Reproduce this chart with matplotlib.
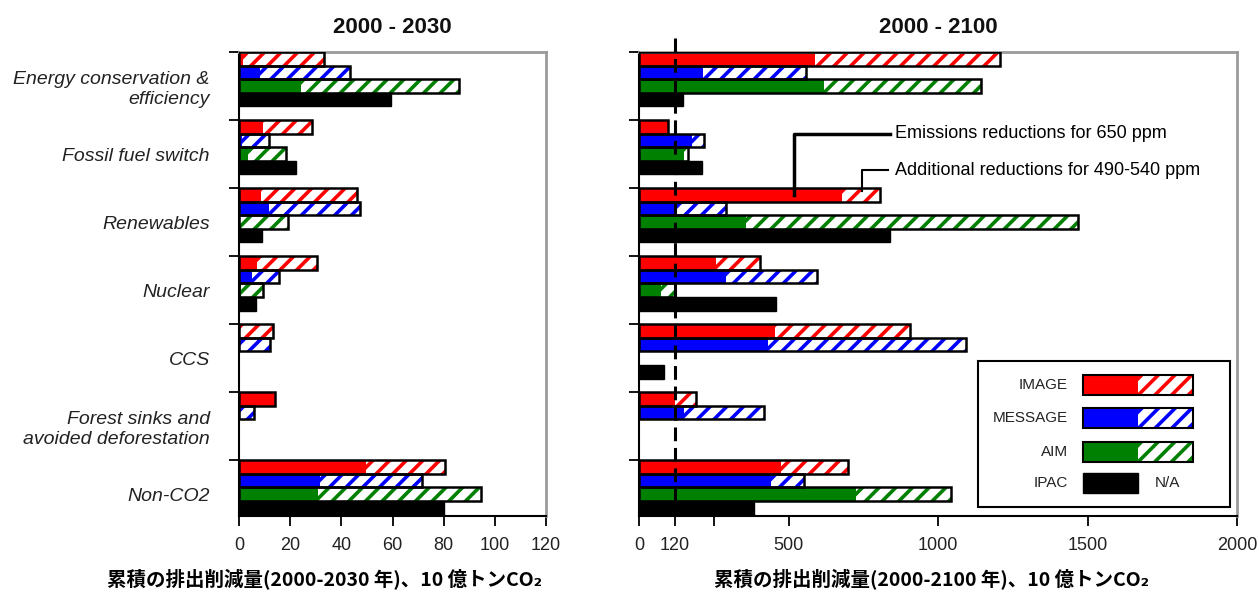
import numpy as np
import matplotlib
matplotlib.use('Agg')
from matplotlib import pyplot as plt
from matplotlib.patches import Rectangle

plt.rcParams['font.family'] = ['Liberation Sans', 'Noto Sans CJK JP', 'DejaVu Sans']
plt.rcParams['hatch.linewidth'] = 2.6

nan = np.nan

categories = ['Energy conservation &\nefficiency', 'Fossil fuel switch', 'Renewables',
              'Nuclear', 'CCS', 'Forest sinks and\navoided deforestation', 'Non-CO2']
models = ['IMAGE', 'MESSAGE', 'AIM', 'IPAC']
colors = ['#ff0000', '#0000ff', '#008000', '#000000']

# 2000-2030 (solid = 650 ppm, total = incl. additional 490-540 ppm)
image_30 = [1.5, 9.4, 8.7, 7.2, 0, 14.2, 49.5]
image_30_tot = [33.2, 28.7, 46.2, 30.5, 13.3, 14.2, 80.6]
message_30 = [8.1, 1.3, 11.7, 5.1, 0, 0.5, 31.8]
message_30_tot = [43.5, 11.7, 47.4, 15.6, 12.0, 5.9, 71.6]
aim_30 = [24.4, 3.5, 0, 0.8, nan, nan, 30.9]
aim_30_tot = [85.8, 18.5, 19.1, 9.4, nan, nan, 94.7]
ipac_30 = [59.5, 22.4, 9.0, 6.8, nan, nan, 80.0]

# 2000-2100
image_100 = [587, 96, 679, 259, 456, 119, 474]
image_100_tot = [1209, 96, 805, 406, 905, 189, 699]
message_100 = [214, 178, 127, 292, 431, 149, 441]
message_100_tot = [557, 216, 291, 595, 1095, 419, 553]
aim_100 = [620, 149, 359, 74, nan, nan, 725]
aim_100_tot = [1145, 163, 1467, 121, nan, nan, 1043]
ipac_100 = [147, 211, 838, 458, 85, nan, 384]

ticks_30 = [0, 20, 40, 60, 80, 100, 120]
ticks_100 = [0, 120, 250, 500, 1000, 1500, 2000]
ticklabels_100 = ['0', '120', '', '500', '1000', '1500', '2000']

W, H = 1259, 594
fig = plt.figure(figsize=(W / 100, H / 100), dpi=100)

def px_box(x0, x1, y0, y1):
    return [x0 / W, 1 - y1 / H, (x1 - x0) / W, (y1 - y0) / H]

ax1 = fig.add_axes(px_box(239, 546, 52, 516))
ax2 = fig.add_axes(px_box(639, 1237, 52, 516))

BAR_H = 0.2

def draw_bars(ax, solid, total, k, color):
    solid = np.asarray(solid, float)
    total = np.asarray(total, float)
    y = np.arange(len(solid)) + BAR_H * k + BAR_H / 2
    ok = ~np.isnan(total)
    ax.barh(y[ok], solid[ok], height=BAR_H, color=color, linewidth=0, zorder=2)
    extra = total - solid
    ax.barh(y[ok], extra[ok], left=solid[ok], height=BAR_H, color='white',
            edgecolor=color, hatch='//', linewidth=0, zorder=2)
    ax.barh(y[ok], total[ok], height=BAR_H, fill=False, edgecolor='black',
            linewidth=1.8, zorder=3)

def draw_ipac(ax, vals):
    vals = np.asarray(vals, float)
    y = np.arange(len(vals)) + BAR_H * 3 + BAR_H / 2
    ok = ~np.isnan(vals)
    ax.barh(y[ok], vals[ok], height=BAR_H, color='black', edgecolor='black',
            linewidth=1.0, zorder=2)

def style_axes(ax, xmax, ticks, labels, title):
    ax.set_xlim(0, xmax)
    ax.set_ylim(6.82, 0)
    for s in ['top', 'right']:
        ax.spines[s].set_color('#9a9a9a')
        ax.spines[s].set_linewidth(2.0)
    for s in ['left', 'bottom']:
        ax.spines[s].set_color('black')
        ax.spines[s].set_linewidth(1.5)
    ax.set_xticks(ticks)
    ax.set_xticklabels(labels)
    ax.tick_params(axis='x', length=7, width=1.3, pad=8, labelsize=13, labelcolor='#222222')
    ax.set_yticks(np.arange(0, 7))
    ax.set_yticklabels([])
    ax.tick_params(axis='y', length=7, width=1.3)
    ax.set_title(title, fontsize=16, fontweight='bold', pad=14, color='#111111')

# left panel
draw_bars(ax1, image_30, image_30_tot, 0, colors[0])
draw_bars(ax1, message_30, message_30_tot, 1, colors[1])
draw_bars(ax1, aim_30, aim_30_tot, 2, colors[2])
draw_ipac(ax1, ipac_30)
style_axes(ax1, 120, ticks_30, [str(t) for t in ticks_30], '2000 - 2030')
ax1.set_yticks(np.arange(len(categories)) + 0.5, minor=True)
ax1.set_yticklabels(categories, minor=True, fontstyle='italic', fontsize=14, color='#222222')
ax1.tick_params(axis='y', which='minor', length=0, pad=21)

# right panel
draw_bars(ax2, image_100, image_100_tot, 0, colors[0])
draw_bars(ax2, message_100, message_100_tot, 1, colors[1])
draw_bars(ax2, aim_100, aim_100_tot, 2, colors[2])
draw_ipac(ax2, ipac_100)
style_axes(ax2, 2000, ticks_100, ticklabels_100, '2000 - 2100')
ax2.plot([120, 120], [-0.2, 6.82], color='black', linestyle=(0, (4.5, 2.2)), linewidth=2.2,
         clip_on=False, zorder=5)

# annotations
ax2.plot([518, 518, 839], [2.10, 1.2, 1.2], color='black', linewidth=2.5, zorder=6)
ax2.plot([746, 746, 833], [2.05, 1.735, 1.735], color='black', linewidth=1.5, zorder=6)
ax2.text(856, 1.2, 'Emissions reductions for 650 ppm', fontsize=13, va='center', ha='left')
ax2.text(856, 1.735, 'Additional reductions for 490-540 ppm', fontsize=13, va='center', ha='left')

# legend box (drawn by hand)
tr = ax2.transAxes
ax2.add_patch(Rectangle((0.567, 0.019), 0.421, 0.315, transform=tr, fill=False,
                        edgecolor='black', linewidth=1.5, zorder=6))
rows = [0.282, 0.211, 0.138, 0.071]
ph = 0.043
for name, c, yr in zip(models, colors, rows):
    ax2.text(0.717, yr, name, transform=tr, ha='right', va='center', fontsize=11,
             color='#222222', zorder=7)
    if name == 'IPAC':
        ax2.add_patch(Rectangle((0.742, yr - ph / 2), 0.092, ph, transform=tr,
                                facecolor='black', edgecolor='black', zorder=7))
        ax2.text(0.883, yr, 'N/A', transform=tr, ha='center', va='center', fontsize=11,
                 color='#222222', zorder=7)
    else:
        ax2.add_patch(Rectangle((0.742, yr - ph / 2), 0.092, ph, transform=tr,
                                facecolor=c, linewidth=0, zorder=7))
        ax2.add_patch(Rectangle((0.834, yr - ph / 2), 0.092, ph, transform=tr,
                                facecolor='white', edgecolor=c, hatch='//', linewidth=0, zorder=7))
        ax2.add_patch(Rectangle((0.742, yr - ph / 2), 0.184, ph, transform=tr,
                                fill=False, edgecolor='black', linewidth=1.5, zorder=8))

# x labels
cjk = ['Noto Sans CJK JP', 'DejaVu Sans']
fig.text(325 / W, 1 - 580 / H, '累積の排出削減量(2000-2030 年)、10 億トンCO₂', family=cjk,
         fontsize=14, fontweight='bold', ha='center', va='center')
fig.text(932 / W, 1 - 580 / H, '累積の排出削減量(2000-2100 年)、10 億トンCO₂', family=cjk,
         fontsize=14, fontweight='bold', ha='center', va='center')

fig.savefig('out.png', dpi=100)
